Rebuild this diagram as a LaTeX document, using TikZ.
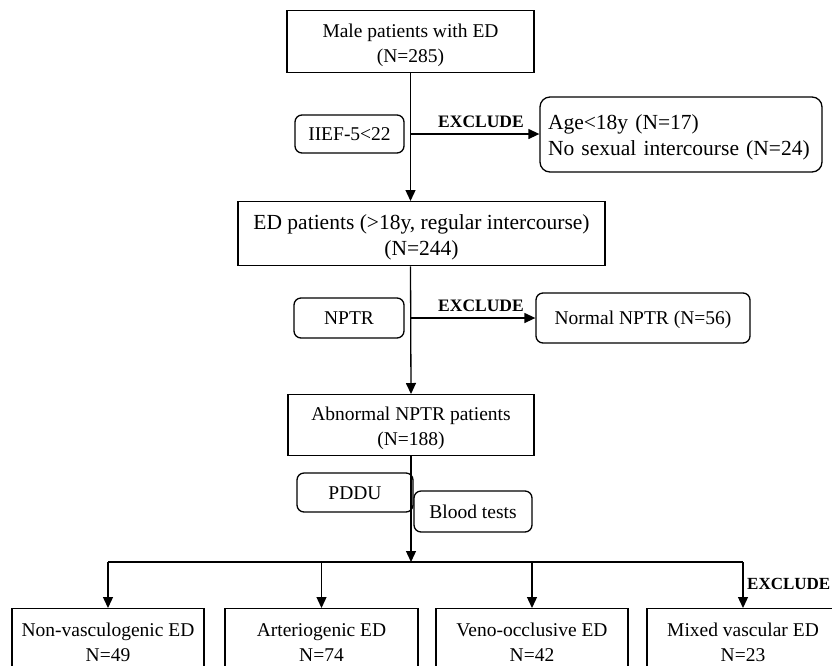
\documentclass[tikz,border=0pt]{standalone}
\usepackage{fontspec}
\setmainfont{Liberation Serif}
\usetikzlibrary{arrows.meta}
\begin{document}
\begin{tikzpicture}[x=1pt,y=-1pt,
  every node/.style={font=\fontsize{19.5}{25}\selectfont},
  bigfont/.style={font=\fontsize{21.5}{26}\selectfont},
  sq/.style={draw, line width=1.3pt, inner sep=0pt, align=center, anchor=north},
  rbox/.style={draw, line width=1.3pt, rounded corners=7pt, inner sep=0pt, text height=13pt, text depth=0pt},
  conn/.style={line width=1.3pt},
  arr/.style={line width=1.3pt, -{Triangle[length=11pt,width=10pt]}},
  exlbl/.style={font=\fontsize{17.5}{20}\selectfont\bfseries, inner sep=0pt}
]
\useasboundingbox (0,0) rectangle (832,665);
\clip (0,0) rectangle (832,665);

% main boxes
\node[sq, minimum width=247pt] (b1) at (410.5,10)
  {\rule{0pt}{27pt}Male patients with ED\\(N=285)\rule[-10pt]{0pt}{0pt}};
\node[sq, bigfont, minimum width=367pt] (b2) at (421.5,201)
  {\rule{0pt}{28pt}ED patients (>18y, regular intercourse)\\(N=244)\rule[-10pt]{0pt}{0pt}};
\node[sq, minimum width=246pt] (b3) at (411,394)
  {\rule{0pt}{26pt}Abnormal NPTR patients\\(N=188)\rule[-10pt]{0pt}{0pt}};

% criteria boxes
\node[rbox, minimum width=109pt, minimum height=38pt] (iief) at (349.5,134) {IIEF-5<22};
\node[rbox, minimum width=110pt, minimum height=40pt] (nptr) at (349,318) {NPTR};
\node[rbox, minimum width=116pt, minimum height=39pt] (pddu) at (355,492.5) {PDDU};
\node[rbox, minimum width=118pt, minimum height=41pt] (blood) at (473,511.5) {Blood tests};

% exclusion boxes
\node[draw, bigfont, line width=1.3pt, rounded corners=10pt, inner sep=0pt, align=left,
      text width=266pt, minimum width=282pt, minimum height=75pt] (ex1) at (681,134.5)
  {\rule{0pt}{20pt}Age<18y (N=17)\\No sexual intercourse (N=24)};
\node[rbox, minimum width=214pt, minimum height=50pt] (ex2) at (643,318) {Normal NPTR (N=56)};

% bottom boxes
\node[sq, minimum width=192pt] (c1) at (108,608)
  {\rule{0pt}{28pt}Non-vasculogenic ED\\N=49\rule[-30pt]{0pt}{0pt}};
\node[sq, minimum width=193pt] (c2) at (321.5,608)
  {\rule{0pt}{28pt}Arteriogenic ED\\N=74\rule[-30pt]{0pt}{0pt}};
\node[sq, minimum width=192pt] (c3) at (532,608)
  {\rule{0pt}{28pt}Veno-occlusive ED\\N=42\rule[-30pt]{0pt}{0pt}};
\node[sq, minimum width=192pt] (c4) at (743,608)
  {\rule{0pt}{28pt}Mixed vascular ED\\N=23\rule[-30pt]{0pt}{0pt}};

% labels
\node[exlbl] (x1) at (481,122) {EXCLUDE};
\node[exlbl] (x2) at (481,306) {EXCLUDE};
\node[exlbl, font=\fontsize{17}{20}\selectfont\bfseries, anchor=west] (x3) at (747,584) {EXCLUDE};

% connectors
\coordinate (bar) at (411,562);
\draw[arr] (b1.south) -- (b2.north -| b1.south);
\draw[arr] (iief.east -| b1.south) -- (iief.east -| ex1.west);
\draw[arr] (b2.south -| b1.south) -- (b3.north);
\draw[arr] (nptr.east -| b1.south) -- (ex2.west);
\draw[arr] (b3.south) -- (bar);
\draw[conn] (c1.north |- bar) -- (c4.north |- bar);
\draw[arr] (c1.north |- bar) -- (c1.north);
\draw[arr] (c2.north |- bar) -- (c2.north);
\draw[arr] (c3.north |- bar) -- (c3.north);
\draw[arr] (c4.north |- bar) -- (c4.north);
\end{tikzpicture}
\end{document}
